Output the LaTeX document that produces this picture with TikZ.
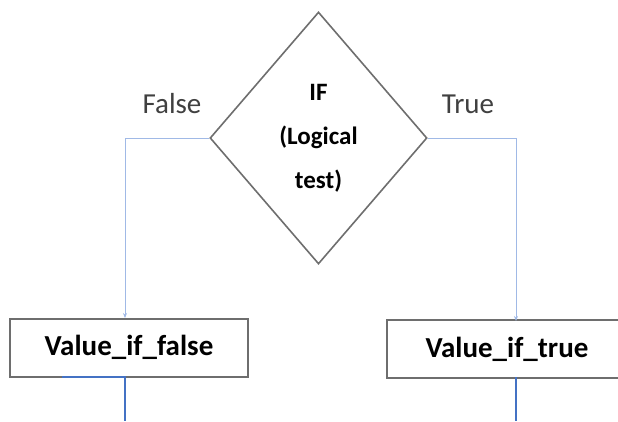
\documentclass[tikz,border=0pt]{standalone}
\usepackage{fontspec}
\setmainfont{Carlito}
\usetikzlibrary{shapes.geometric,arrows.meta}
\definecolor{boxgray}{RGB}{110,110,110}
\definecolor{linkblue}{RGB}{160,185,230}
\definecolor{outblue}{RGB}{68,114,196}

\begin{document}
\begin{tikzpicture}[x=1pt,y=-1pt,
		decision/.style={diamond,draw=boxgray,line width=1.6pt,inner sep=0pt,minimum width=217pt,minimum height=252pt,align=center,font=\fontsize{25}{44}\selectfont\bfseries},
		valuebox/.style={rectangle,draw=boxgray,line width=2pt,minimum width=238pt,minimum height=58pt,font=\fontsize{29}{34}\selectfont\bfseries},
		link/.style={draw=linkblue,line width=1pt,-{Stealth[length=5pt,width=4pt]}},
		outlink/.style={draw=outblue,line width=2pt},
		branch/.style={font=\fontsize{29}{34}\selectfont,text=black!75}]
		\useasboundingbox (0,0) rectangle (618,421);
		\clip (0,0) rectangle (618,421);
		% decision
		\node [decision] (test) at (318.5,138) {IF\\(Logical\\test)};
		% results
		\node [valuebox] (fbox) at (129,347.5) {Value\_if\_false};
		\node [valuebox,minimum width=240pt] (tbox) at (507,349) {Value\_if\_true};
		% branches
		\coordinate (fin) at (125,318);
		\coordinate (tin) at (516,321);
		\draw [link] (test.west) -| (fin);
		\draw [link] (test.east) -| (tin);
		\node [branch] (flabel) at (172,104) {False};
		\node [branch] (tlabel) at (468,104) {True};
		% outputs
		\coordinate (fout) at (125,377);
		\coordinate (fleft) at (62,377);
		\coordinate (fend) at (125,421);
		\coordinate (tout) at (516,377);
		\coordinate (tend) at (516,421);
		\draw [outlink] (fleft) -- (fout) -- (fend);
		\draw [outlink] (tout) -- (tend);
\end{tikzpicture}
\end{document}
